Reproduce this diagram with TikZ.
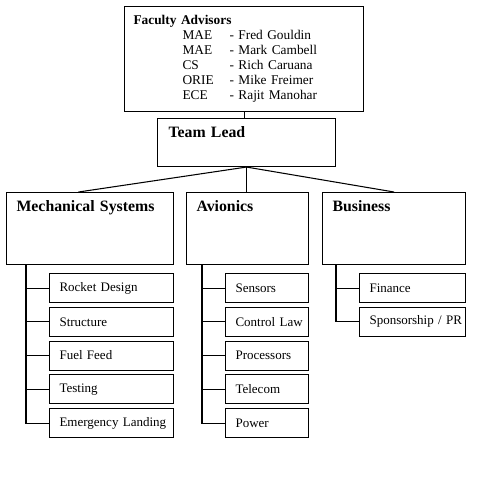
\documentclass[tikz,border=0pt]{standalone}
\usepackage{fontspec}
\setmainfont{Liberation Serif}
\usepackage{tikz}
\usetikzlibrary{positioning}

\begin{document}
\begin{tikzpicture}[
  x=0.2mm, y=-0.2mm, line width=0.6pt,
  box/.style={draw, anchor=north west, align=left, inner ysep=1mm},
  head/.style={box, inner xsep=2mm, text height=2.8mm, text depth=9.6mm,
               text width=#1, font=\fontsize{9}{10}\selectfont\bfseries},
  kid/.style={box, inner xsep=2mm, minimum height=5.8mm, text width=#1,
              font=\fontsize{7.4}{9}\selectfont}]
  \useasboundingbox (0,0) rectangle (500,500);
  \node[box, inner xsep=1.8mm, text width=44.2mm, text height=2.6mm, text depth=16.4mm,
        font=\fontsize{7.6}{8.5}\selectfont] (adv) at (124,6)
    {\begin{tabular}[t]{@{}p{9.8mm}@{}p{9.4mm}@{}l@{}}
      \multicolumn{3}{@{}l@{}}{\bfseries Faculty Advisors}\\
      & MAE  & - Fred Gouldin\\
      & MAE  & - Mark Cambell\\
      & CS   & - Rich Caruana\\
      & ORIE & - Mike Freimer\\
      & ECE  & - Rajit Manohar
     \end{tabular}};
  \node[box, inner xsep=2.2mm, text width=31.2mm, text height=2.8mm, text depth=4.8mm,
        font=\fontsize{9}{10}\selectfont\bfseries] (lead) at (157,118) {Team Lead};
  \node[head=29.4mm] (mech) at (6,192)   {Mechanical Systems};
  \node[head=20.4mm] (avio) at (186,192) {Avionics};
  \node[head=24.6mm] (biz)  at (322,192) {Business};
  \foreach \t [count=\i] in {Rocket Design, Structure, Fuel Feed, Testing, {\mbox{Emergency Landing}}}
    {\node[kid=20.8mm] (m\i) at (49,{273+33.75*(\i-1)}) {\t};}
  \foreach \t [count=\i] in {Sensors, {\mbox{Control Law}}, Processors, Telecom, Power}
    {\node[kid=12.6mm] (a\i) at (225,{273+33.75*(\i-1)}) {\t};}
  \foreach \t [count=\i] in {Finance, {\mbox{Sponsorship / PR}}}
    {\node[kid=17.2mm] (b\i) at (359,{273+33.75*(\i-1)}) {\t};}
  \coordinate (mspine) at ([xshift=4mm]mech.south west);
  \coordinate (aspine) at ([xshift=3.2mm]avio.south west);
  \coordinate (bspine) at ([xshift=2.8mm]biz.south west);
  \draw (adv.south) -- (adv.south |- lead.north);
  \draw (lead.south) -- ([xshift=-2.3mm]mech.north);
  \draw (lead.south) -- (lead.south |- avio.north);
  \draw (lead.south) -- (biz.north);
  \draw (mspine) |- (m5);
  \draw (aspine) |- (a5);
  \draw (bspine) |- (b2);
  \foreach \i in {1,...,4} {\draw (mspine |- m\i) -- (m\i);}
  \foreach \i in {1,...,4} {\draw (aspine |- a\i) -- (a\i);}
  \draw (bspine |- b1) -- (b1);
\end{tikzpicture}
\end{document}
